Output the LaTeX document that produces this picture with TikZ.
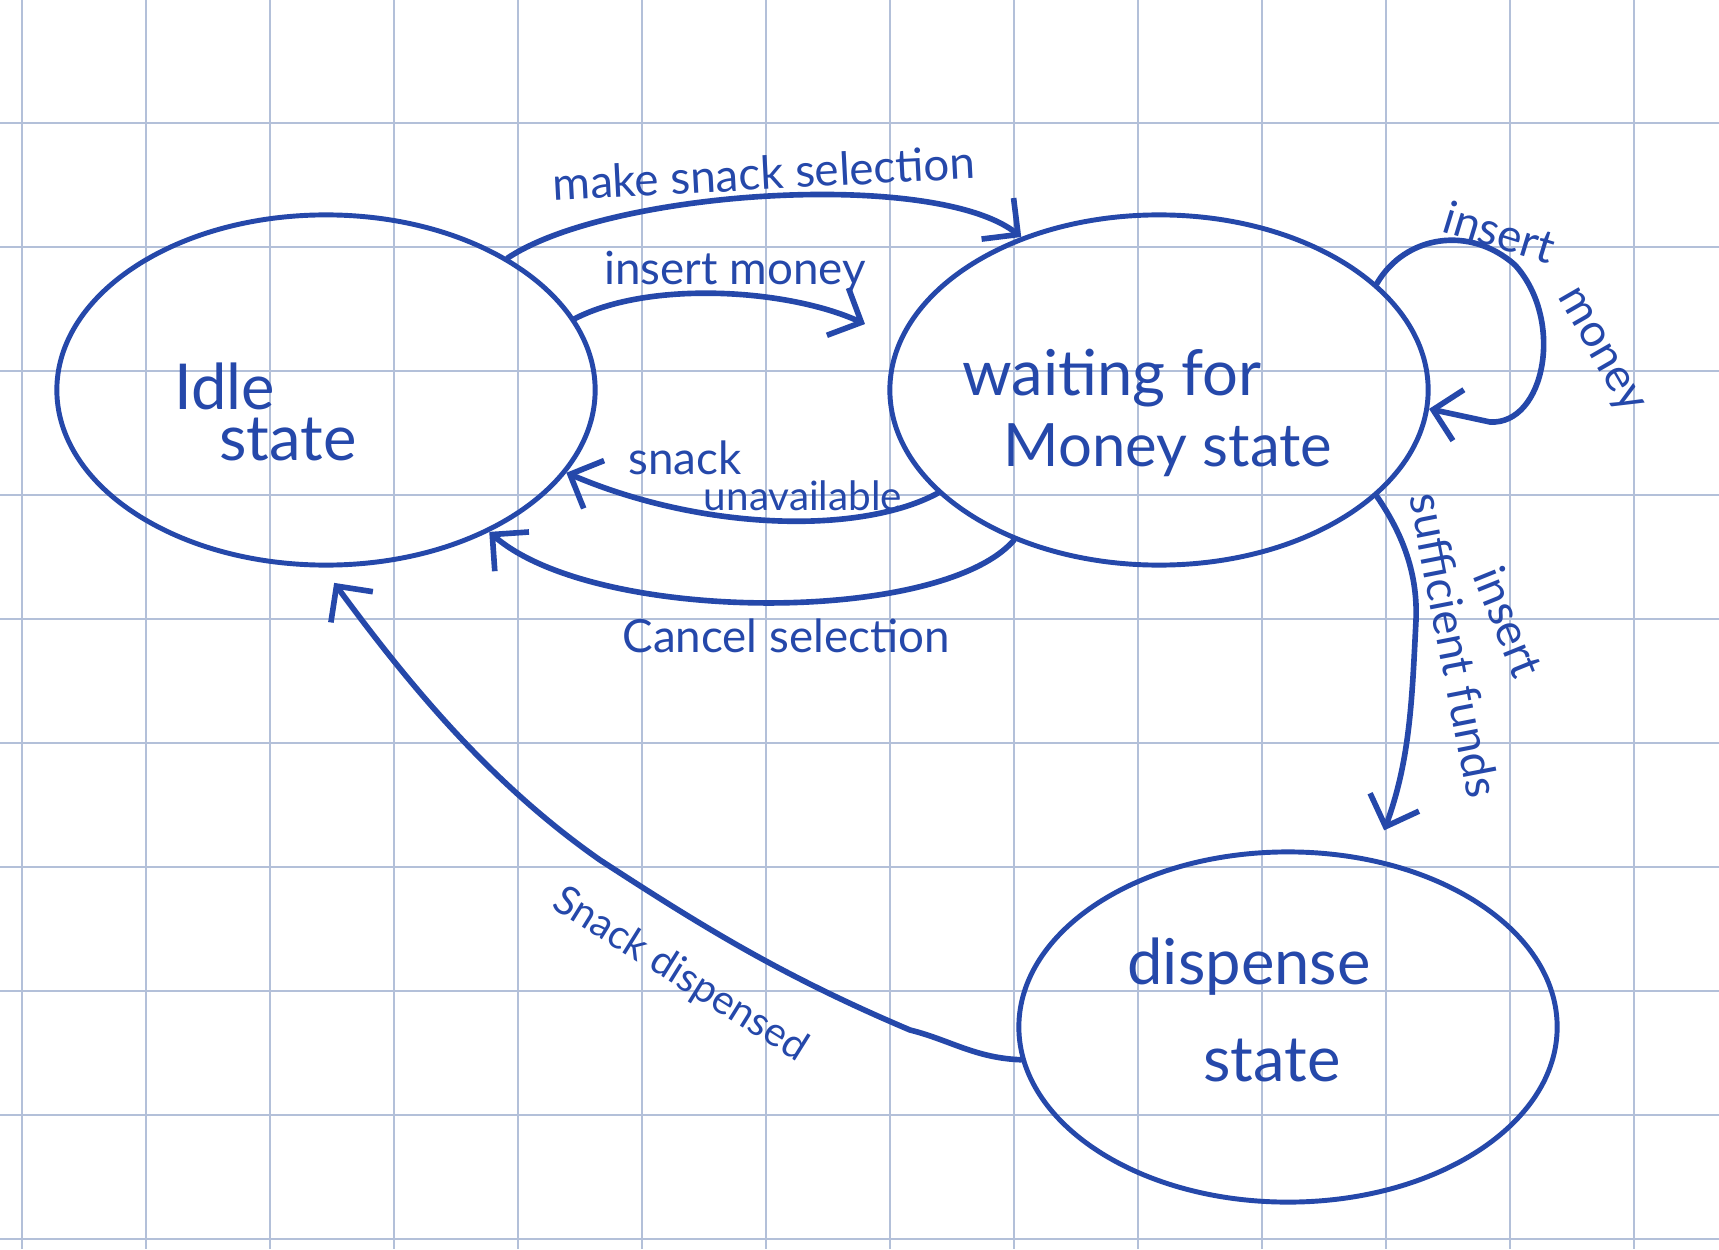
\documentclass[tikz,border=0pt]{standalone}
\usepackage{fontspec}
\setmainfont{Lato}
\usepackage{xcolor}
\usepackage{tikz}
\usetikzlibrary{arrows.meta,shapes.geometric}
\definecolor{InkBlue}{HTML}{2548AA}
\definecolor{GridGrey}{HTML}{B3C0D9}
\tikzset{
  gridline/.style={draw=GridGrey,line width=0.6pt},
  statebox/.style={ellipse,draw=InkBlue,line width=1.4pt,inner sep=0pt,minimum width=5.38cm,minimum height=3.5cm},
  statetext/.style={text=InkBlue,font=\fontsize{18}{20}\selectfont,inner sep=0pt},
  handlabel/.style={text=InkBlue,font=\fontsize{13}{15}\selectfont,inner sep=0pt},
  smalllabel/.style={handlabel,font=\fontsize{11.5}{13}\selectfont},
  flowarrow/.style={-{Straight Barb[length=2.6mm,width=5.2mm,line width=1.6pt]},line width=1.6pt,draw=InkBlue,line cap=round,line join=round}
}
\begin{document}
\begin{tikzpicture}[x=0.01cm,y=-0.01cm]
\useasboundingbox (0,0) rectangle (1719,1249);
\fill[white] (0,0) rectangle (1719,1249);
% grid paper
\foreach \gx in {0,...,13} \draw[gridline] ({21.7+124*\gx},0) -- ++(0,1249);
\foreach \gy in {1,...,10} \draw[gridline] (0,{-1.3+124*\gy}) -- ++(1719,0);
% states
\node[statebox] (idle) at (326,390) {};
\node[statebox] (wait) at (1159,390) {};
\node[statebox] (disp) at (1288,1027) {};
\node[statetext] (idleA) at (225,386) {Idle};
\node[statetext] (idleB) at (288,440) {state};
\node[statetext] (waitA) at (1112,378) {waiting for};
\node[statetext,font=\fontsize{17}{19}\selectfont] (waitB) at (1168,450) {Money state};
\node[statetext] (dispA) at (1249,967) {dispense};
\node[statetext] (dispB) at (1272,1061) {state};
% transitions
\draw[flowarrow] (idle.36) .. controls (610,190) and (934,169) .. (wait.132);
\draw[flowarrow,shorten >=0.37cm] (idle.16) .. controls (650,280) and (788,289) .. (wait.169);
\draw[flowarrow] (wait.205) .. controls (860,535) and (703,531) .. (idle.341);
\draw[flowarrow] (wait.226) .. controls (940,625) and (595,624) .. (idle.319);
\draw[flowarrow] (wait.26) .. controls (1405,235) and (1470,225) .. (1515,265)
  .. controls (1565,320) and (1545,425) .. (1490,422) -- (wait.-4);
\draw[flowarrow,shorten >=0.3cm] (wait.334) .. controls (1400,530) and (1418,570) .. (1416,620)
  .. controls (1412,700) and (1410,760) .. (disp.63);
\draw[flowarrow,shorten >=0.19cm] (disp.187) .. controls (975,1058) and (950,1040) .. (910,1030)
  .. controls (780,975) and (700,925) .. (600,860)
  .. controls (500,790) and (420,700) .. (idle.269);
% labels
\node[handlabel,rotate=3] (lSelect) at (764,173) {make snack selection};
\node[handlabel] (lMoney) at (735,272) {insert money};
\node[handlabel] (lSnackA) at (685,458) {snack};
\node[smalllabel] (lSnackB) at (803,496) {unavailable};
\node[handlabel] (lCancel) at (786,636) {Cancel selection};
\node[handlabel,rotate=-17] (lLoopA) at (1500,232) {insert};
\node[handlabel,rotate=-60] (lLoopB) at (1598,352) {money};
\node[handlabel,rotate=-79] (lFundsA) at (1455,645) {sufficient funds};
\node[handlabel,rotate=-68] (lFundsB) at (1509,622) {insert};
\node[smalllabel,rotate=-32] (lDisp) at (680,975) {Snack dispensed};
\end{tikzpicture}
\end{document}
